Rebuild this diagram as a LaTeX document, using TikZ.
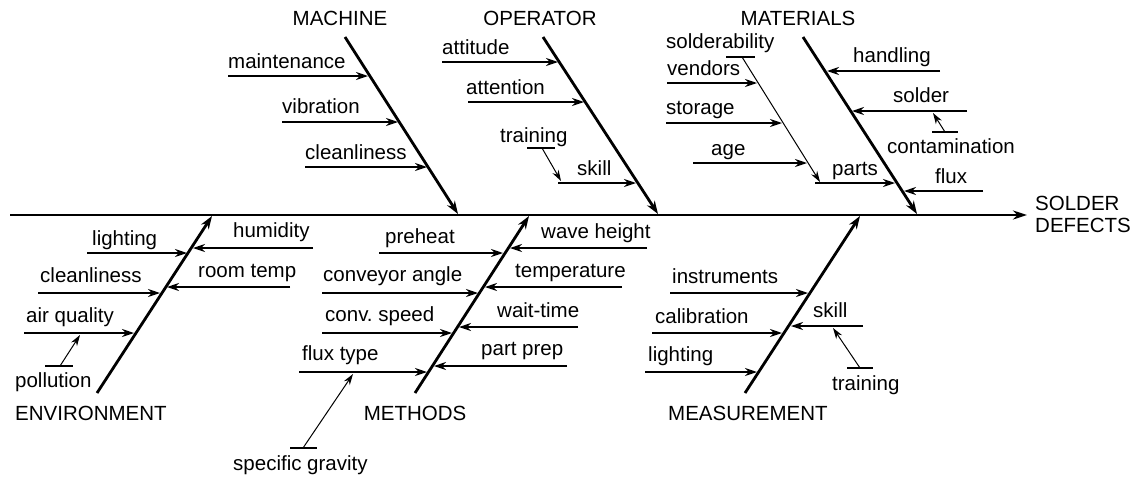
\documentclass[tikz,border=0pt]{standalone}
\usepackage{fontspec}
\setmainfont{Liberation Sans}
\usepackage{tikz}
\usetikzlibrary{arrows.meta}

\begin{document}
\begin{tikzpicture}[
  x=1pt,y=-1pt,
  spine/.style={line width=2.8pt,-{Stealth[length=14pt,width=9pt]}},
  bone/.style={line width=2.8pt,-{Stealth[length=13pt,width=9pt]}},
  twig/.style={line width=1.4pt,-{Stealth[length=12pt,width=8pt]}},
  subtwig/.style={line width=1pt,-{Stealth[length=11pt,width=7pt]}},
  stub/.style={line width=1.1pt},
  lbl/.style={anchor=base west,inner sep=0pt,font=\fontsize{20.5}{22}\selectfont},
  hd/.style={lbl,anchor=base},
]
  \useasboundingbox (0,0) rectangle (1134,480);

  % spine and effect
  \coordinate (sp0) at (10,215);
  \coordinate (sp1) at (1027,215);
  \draw[spine] (sp0) -- (sp1);
  \node[lbl,anchor=north west,align=left] (eff) at (1035,196) {SOLDER\\DEFECTS};

  % machine
  \coordinate (mach0) at (345,37);
  \coordinate (mach1) at (458,214);
  \draw[bone] (mach0) -- (mach1);
  \node[hd] (mach) at (340,25) {MACHINE};
  \coordinate (mnt0) at (228,76);   \coordinate (mnt1) at (368,76);
  \draw[twig] (mnt0) -- (mnt1);
  \node[lbl] (mnt) at (228,68) {maintenance};
  \coordinate (vib0) at (282,122);  \coordinate (vib1) at (398,122);
  \draw[twig] (vib0) -- (vib1);
  \node[lbl] (vib) at (282,113) {vibration};
  \coordinate (cln0) at (305,167);  \coordinate (cln1) at (427,167);
  \draw[twig] (cln0) -- (cln1);
  \node[lbl] (cln) at (305,159) {cleanliness};

  % operator
  \coordinate (oper0) at (543,37);
  \coordinate (oper1) at (658,214);
  \draw[bone] (oper0) -- (oper1);
  \node[hd] (oper) at (540,25) {OPERATOR};
  \coordinate (att0) at (442,62);   \coordinate (att1) at (558,62);
  \draw[twig] (att0) -- (att1);
  \node[lbl] (att) at (442,54) {attitude};
  \coordinate (atn0) at (468,102);  \coordinate (atn1) at (584,102);
  \draw[twig] (atn0) -- (atn1);
  \node[lbl] (atn) at (466,94) {attention};
  \coordinate (skl0) at (558,183);  \coordinate (skl1) at (636,183);
  \draw[twig] (skl0) -- (skl1);
  \node[lbl] (skl) at (577,175) {skill};
  \coordinate (trn0) at (527,148);  \coordinate (trn1) at (555,148);
  \coordinate (trn2) at (542,148);  \coordinate (trn3) at (561,181);
  \draw[stub] (trn0) -- (trn1);
  \draw[subtwig] (trn2) -- (trn3);
  \node[lbl] (trn) at (500,142) {training};

  % materials
  \coordinate (matl0) at (803,37);
  \coordinate (matl1) at (917,214);
  \draw[bone] (matl0) -- (matl1);
  \node[hd] (matl) at (798,25) {MATERIALS};
  \coordinate (hnd0) at (940,71);   \coordinate (hnd1) at (827,71);
  \draw[twig] (hnd0) -- (hnd1);
  \node[lbl] (hnd) at (853,62) {handling};
  \coordinate (sld0) at (967,111);  \coordinate (sld1) at (852,111);
  \draw[twig] (sld0) -- (sld1);
  \node[lbl] (sld) at (893,102) {solder};
  \coordinate (cnt0) at (932,132);  \coordinate (cnt1) at (958,132);
  \coordinate (cnt2) at (945,132);  \coordinate (cnt3) at (933,113);
  \draw[stub] (cnt0) -- (cnt1);
  \draw[subtwig] (cnt2) -- (cnt3);
  \node[lbl] (cnt) at (887,153) {contamination};
  \coordinate (flx0) at (983,191);  \coordinate (flx1) at (904,191);
  \draw[twig] (flx0) -- (flx1);
  \node[lbl] (flx) at (935,183) {flux};
  \coordinate (prt0) at (815,183);  \coordinate (prt1) at (895,183);
  \draw[twig] (prt0) -- (prt1);
  \node[lbl] (prt) at (832,175) {parts};
  \coordinate (sdb0) at (726,57);   \coordinate (sdb1) at (755,57);
  \coordinate (sdb2) at (742,57);   \coordinate (sdb3) at (820,182);
  \draw[stub] (sdb0) -- (sdb1);
  \draw[subtwig] (sdb2) -- (sdb3);
  \node[lbl] (sdb) at (666,48) {solderability};
  \coordinate (vnd0) at (667,83);   \coordinate (vnd1) at (757,83);
  \draw[twig] (vnd0) -- (vnd1);
  \node[lbl] (vnd) at (667,75) {vendors};
  \coordinate (stg0) at (666,123);  \coordinate (stg1) at (782,123);
  \draw[twig] (stg0) -- (stg1);
  \node[lbl] (stg) at (666,114) {storage};
  \coordinate (age0) at (693,163);  \coordinate (age1) at (807,163);
  \draw[twig] (age0) -- (age1);
  \node[lbl] (age) at (711,155) {age};

  % environment
  \coordinate (env0) at (97,393);
  \coordinate (env1) at (212,216);
  \draw[bone] (env0) -- (env1);
  \node[lbl] (env) at (15,420) {ENVIRONMENT};
  \coordinate (elt0) at (87,253);   \coordinate (elt1) at (187,253);
  \draw[twig] (elt0) -- (elt1);
  \node[lbl] (elt) at (92,245) {lighting};
  \coordinate (ecl0) at (38,293);   \coordinate (ecl1) at (160,293);
  \draw[twig] (ecl0) -- (ecl1);
  \node[lbl] (ecl) at (40,282) {cleanliness};
  \coordinate (air0) at (24,333);   \coordinate (air1) at (134,333);
  \draw[twig] (air0) -- (air1);
  \node[lbl] (air) at (26,322) {air quality};
  \coordinate (pol0) at (45,366);   \coordinate (pol1) at (73,366);
  \coordinate (pol2) at (60,366);   \coordinate (pol3) at (80,335);
  \draw[stub] (pol0) -- (pol1);
  \draw[subtwig] (pol2) -- (pol3);
  \node[lbl] (pol) at (15,387) {pollution};
  \coordinate (hum0) at (313,248);  \coordinate (hum1) at (193,248);
  \draw[twig] (hum0) -- (hum1);
  \node[lbl] (hum) at (233,237) {humidity};
  \coordinate (rmt0) at (290,287);  \coordinate (rmt1) at (167,287);
  \draw[twig] (rmt0) -- (rmt1);
  \node[lbl] (rmt) at (198,277) {room temp};

  % methods
  \coordinate (meth0) at (415,393);
  \coordinate (meth1) at (529,216);
  \draw[bone] (meth0) -- (meth1);
  \node[hd] (meth) at (415,420) {METHODS};
  \coordinate (pre0) at (379,253);  \coordinate (pre1) at (503,253);
  \draw[twig] (pre0) -- (pre1);
  \node[lbl] (pre) at (385,243) {preheat};
  \coordinate (cva0) at (322,293);  \coordinate (cva1) at (478,293);
  \draw[twig] (cva0) -- (cva1);
  \node[lbl] (cva) at (323,281) {conveyor angle};
  \coordinate (cvs0) at (322,333);  \coordinate (cvs1) at (452,333);
  \draw[twig] (cvs0) -- (cvs1);
  \node[lbl] (cvs) at (325,321) {conv.\ speed};
  \coordinate (fxt0) at (299,372);  \coordinate (fxt1) at (427,372);
  \draw[twig] (fxt0) -- (fxt1);
  \node[lbl] (fxt) at (302,360) {flux type};
  \coordinate (spg0) at (290,448);  \coordinate (spg1) at (317,448);
  \coordinate (spg2) at (303,448);  \coordinate (spg3) at (353,374);
  \draw[stub] (spg0) -- (spg1);
  \draw[subtwig] (spg2) -- (spg3);
  \node[lbl] (spg) at (233,470) {specific gravity};
  \coordinate (wvh0) at (647,248);  \coordinate (wvh1) at (510,248);
  \draw[twig] (wvh0) -- (wvh1);
  \node[lbl] (wvh) at (541,238) {wave height};
  \coordinate (tmp0) at (622,287);  \coordinate (tmp1) at (485,287);
  \draw[twig] (tmp0) -- (tmp1);
  \node[lbl] (tmp) at (515,277) {temperature};
  \coordinate (wtt0) at (578,327);  \coordinate (wtt1) at (459,327);
  \draw[twig] (wtt0) -- (wtt1);
  \node[lbl] (wtt) at (497,317) {wait-time};
  \coordinate (ppp0) at (567,366);  \coordinate (ppp1) at (434,366);
  \draw[twig] (ppp0) -- (ppp1);
  \node[lbl] (ppp) at (481,355) {part prep};

  % measurement
  \coordinate (meas0) at (745,393);
  \coordinate (meas1) at (860,216);
  \draw[bone] (meas0) -- (meas1);
  \node[lbl] (meas) at (668,420) {MEASUREMENT};
  \coordinate (ins0) at (670,293);  \coordinate (ins1) at (808,293);
  \draw[twig] (ins0) -- (ins1);
  \node[lbl] (ins) at (672,283) {instruments};
  \coordinate (cal0) at (652,333);  \coordinate (cal1) at (782,333);
  \draw[twig] (cal0) -- (cal1);
  \node[lbl] (cal) at (655,323) {calibration};
  \coordinate (mlt0) at (645,372);  \coordinate (mlt1) at (757,372);
  \draw[twig] (mlt0) -- (mlt1);
  \node[lbl] (mlt) at (648,361) {lighting};
  \coordinate (msk0) at (863,326);  \coordinate (msk1) at (791,326);
  \draw[twig] (msk0) -- (msk1);
  \node[lbl] (msk) at (813,317) {skill};
  \coordinate (mtr0) at (847,368);  \coordinate (mtr1) at (873,368);
  \coordinate (mtr2) at (860,368);  \coordinate (mtr3) at (833,328);
  \draw[stub] (mtr0) -- (mtr1);
  \draw[subtwig] (mtr2) -- (mtr3);
  \node[lbl] (mtr) at (832,390) {training};
\end{tikzpicture}
\end{document}
